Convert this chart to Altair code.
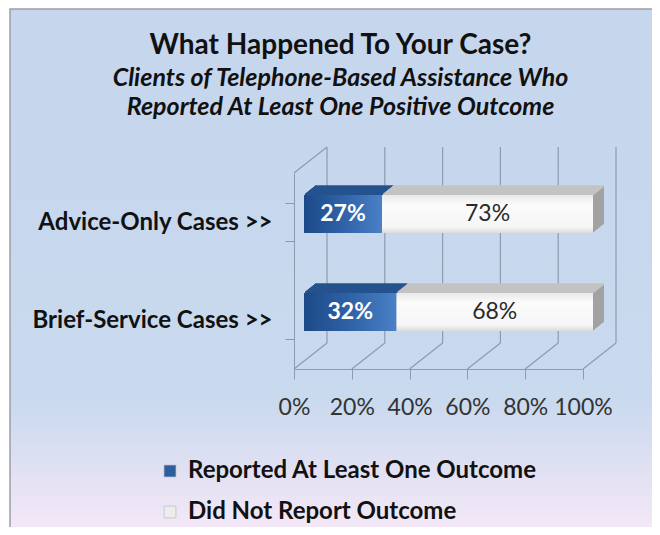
import altair as alt
import pandas as pd

# ---- data ----
categories = ["Advice-Only Cases >>", "Brief-Service Cases >>"]
series = ["Reported At Least One Outcome", "Did Not Report Outcome"]
reported = [27, 32]
not_reported = [73, 68]
tick_values = [0, 20, 40, 60, 80, 100]

rows = []
for i, c in enumerate(categories):
    rows.append({"category": c, "series": series[0], "value": reported[i], "order": 0})
    rows.append({"category": c, "series": series[1], "value": not_reported[i], "order": 1})
df = pd.DataFrame(rows)
ticks_df = pd.DataFrame({"tick": tick_values})
one_df = pd.DataFrame({"a": [0]})

# ---- layout / style ----
W, H = 289, 196
CW, CH = 644, 519
PAD = {"left": 286, "top": 165, "right": CW - 286 - W, "bottom": CH - 165 - H}
DX, DY = 33, -26          # wall depth
BX, BY = 10, -8           # bar front-face offset
NDEPTH = 11               # bar depth in px
BAR_H = 38
FONT = "Lato"
GRID = "#8d9bb0"

xs = alt.Scale(domain=[0, 100], nice=False, zero=True)
ys = alt.Scale(domain=categories, paddingInner=0.612, paddingOuter=0.306)

base = alt.Chart(df).transform_stack(
    stack="value", groupby=["category"], as_=["start", "end"],
    sort=[alt.SortField("order")]
).transform_calculate(mid="(datum.start + datum.end) / 2",
                      lbl="datum.value + '%'")

X = alt.X("start:Q", scale=xs, title=None,
          axis=alt.Axis(values=tick_values, labelExpr="datum.value + '%'",
                        tickSize=10, tickColor=GRID, domainColor=GRID,
                        labelFont=FONT, labelFontSize=23, labelColor="#333333",
                        labelPadding=17, labelOverlap=False, labelFlush=False,
                        grid=False, zindex=1))
Y = alt.Y("category:N", scale=ys, sort=categories, title=None,
          axis=alt.Axis(tickBand="extent", tickSize=9, tickColor=GRID,
                        domainColor=GRID, labelFont=FONT, labelFontSize=24,
                        labelFontWeight="bold", labelColor="#111111",
                        labelPadding=13, labelLimit=400, zindex=1))
Xp = alt.X("start:Q", scale=xs)
Yp = alt.Y("category:N", scale=ys, sort=categories)

bg_grad = alt.LinearGradient(
    gradient="linear", x1=0, y1=0, x2=0, y2=1,
    stops=[alt.GradientStop(color="#c5d6ed", offset=0),
           alt.GradientStop(color="#c9d9ee", offset=0.74),
           alt.GradientStop(color="#e2e1f3", offset=0.88),
           alt.GradientStop(color="#f7e9f7", offset=1)])
background = alt.Chart(one_df).mark_rect(fill=bg_grad, stroke="#9a9ea6", strokeWidth=1.5).encode(
    x=alt.value(-PAD["left"] + 2), x2=alt.value(CW - PAD["left"] + 10),
    y=alt.value(-PAD["top"] + 1), y2=alt.value(CH - PAD["top"] + 10))

back_grid = alt.Chart(ticks_df).mark_rule(
    xOffset=DX, yOffset=DY, y2Offset=DY, color=GRID, strokeWidth=1.2).encode(
    x=alt.X("tick:Q", scale=xs), y=alt.value(0), y2=alt.value(H))
floor = alt.Chart(ticks_df).mark_rule(
    x2Offset=DX, y2Offset=DY, color=GRID, strokeWidth=1.2).encode(
    x=alt.X("tick:Q", scale=xs), x2="tick:Q", y=alt.value(H), y2=alt.value(H))
left_top = alt.Chart(ticks_df).transform_filter("datum.tick == 0").mark_rule(
    x2Offset=DX, y2Offset=DY, color=GRID, strokeWidth=1.2).encode(
    x=alt.X("tick:Q", scale=xs), x2="tick:Q", y=alt.value(0), y2=alt.value(0))

layers = [background, back_grid, floor, left_top]

# extrusion (side faces)
for i in range(NDEPTH, 0, -1):
    layers.append(base.mark_bar(
        xOffset=BX + i, x2Offset=BX + i, yOffset=BY - 0.8 * i).encode(
        x=Xp, x2="end:Q", y=Yp,
        fill=alt.condition("datum.order == 0", alt.value("#1d477f"), alt.value("#a2a2a2"))))
# top faces (sweep of the top edge)
for i in range(NDEPTH, 0, -1):
    layers.append(base.mark_rule(
        xOffset=BX + i, x2Offset=BX + i, yOffset=BY - 0.8 * i - BAR_H / 2,
        strokeWidth=1.8).encode(
        x=Xp, x2="end:Q", y=Yp,
        stroke=alt.condition("datum.order == 0", alt.value("#24528f"), alt.value("#c3c3c3"))))

# legend-carrying plain front face
layers.append(base.mark_bar(xOffset=BX, x2Offset=BX, yOffset=BY).encode(
    x=X, x2="end:Q", y=Y,
    color=alt.Color("series:N", scale=alt.Scale(domain=series, range=["#2e5e9e", "#ededed"]),
                    legend=alt.Legend(title=None, orient="none", legendX=-136, legendY=286,
                                      direction="vertical", symbolType="square", symbolSize=140,
                                      symbolStrokeColor="#a9b3c0", symbolStrokeWidth=0.6,
                                      labelFont=FONT, labelFontSize=24, labelFontWeight="bold",
                                      labelColor="#111111", rowPadding=17, labelOffset=6,
                                      labelLimit=500))))

blue_front = alt.LinearGradient(
    gradient="linear", x1=0, y1=0, x2=1, y2=0,
    stops=[alt.GradientStop(color="#1d4a88", offset=0),
           alt.GradientStop(color="#2f62a6", offset=0.5),
           alt.GradientStop(color="#4a80c6", offset=1)])
white_front = alt.LinearGradient(
    gradient="linear", x1=0, y1=0, x2=0, y2=1,
    stops=[alt.GradientStop(color="#e9e9e9", offset=0),
           alt.GradientStop(color="#fbfbfb", offset=0.25),
           alt.GradientStop(color="#f6f6f6", offset=0.85),
           alt.GradientStop(color="#dadada", offset=1)])

layers.append(base.transform_filter("datum.order == 0").mark_bar(
    xOffset=BX, x2Offset=BX, yOffset=BY, fill=blue_front).encode(
    x=Xp, x2="end:Q", y=Yp))
layers.append(base.transform_filter("datum.order == 1").mark_bar(
    xOffset=BX, x2Offset=BX, yOffset=BY, fill=white_front).encode(
    x=Xp, x2="end:Q", y=Yp))

# value labels
layers.append(base.transform_filter("datum.order == 0").mark_text(
    dx=BX, dy=BY, font=FONT, fontSize=23, fontWeight="bold", color="white").encode(
    x=alt.X("mid:Q", scale=xs), y=Yp, text="lbl:N"))
layers.append(base.transform_filter("datum.order == 1").mark_text(
    dx=BX, dy=BY, font=FONT, fontSize=23, color="#2a2a2a").encode(
    x=alt.X("mid:Q", scale=xs), y=Yp, text="lbl:N"))

chart = alt.layer(*layers).properties(
    width=W, height=H,
    autosize=alt.AutoSizeParams(type="none"),
    padding=PAD,
    title=alt.TitleParams(
        text="What Happened To Your Case?",
        subtitle=["Clients of Telephone-Based Assistance Who",
                  "Reported At Least One Positive Outcome"],
        font=FONT, fontSize=28, fontWeight="bold", color="#111111",
        subtitleFont=FONT, subtitleFontSize=25, subtitleFontStyle="italic",
        subtitleFontWeight="bold", subtitleColor="#111111", subtitlePadding=6,
        subtitleLineHeight=29, anchor="middle", dx=-98, offset=-112),
).configure_view(stroke=None)

chart.save("out.html", embed_options={"renderer": "svg", "actions": False})
